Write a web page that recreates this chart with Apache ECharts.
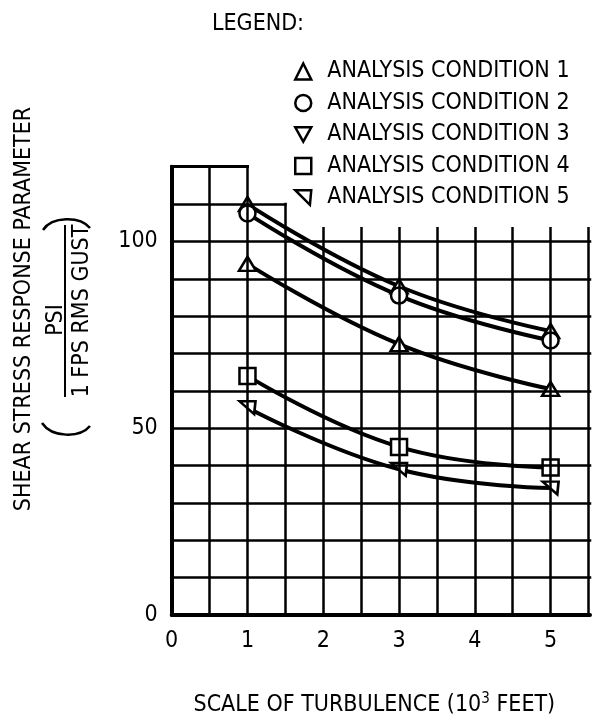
<!DOCTYPE html>
<html>
<head>
<meta charset="utf-8">
<script src="https://cdn.jsdelivr.net/npm/echarts@6/dist/echarts.min.js"></script>
<style>
  html, body { margin: 0; padding: 0; background: #fff; }
  #chart { width: 593px; height: 722px; }
</style>
</head>
<body>
<div id="chart"></div>
<script>
// Turbulence scale (10^3 ft) at which each condition was analysed
const scales = [1, 3, 5];

// Shear stress response parameter, PSI per 1 FPS RMS gust
const condition1 = [110, 88, 76];
const condition2 = [107.5, 85.5, 73.5];
const condition3 = [94, 72.5, 60.5];
const condition4 = [64, 45, 39.5];
const condition5 = [55.5, 39, 34];

const seriesNames = [
  'ANALYSIS CONDITION 1',
  'ANALYSIS CONDITION 2',
  'ANALYSIS CONDITION 3',
  'ANALYSIS CONDITION 4',
  'ANALYSIS CONDITION 5'
];

const xTickLabels = ['0', '1', '2', '3', '4', '5'];
const yTickLabels = ['0', '50', '100'];

const FONT = '"Liberation Sans Narrow", "DejaVu Sans Condensed", "Roboto Condensed", "Liberation Sans", sans-serif';
const FS = 23;
const X_MAX = 5.52;
const Y_MAX = 120;

const DOWN_TRI = 'path://M0 0 L10 0 L5 9 Z';
const SKEW_TRI = 'path://M0 0 L12 0 L11 11 Z';

const symbols = [
  { symbol: 'triangle', size: [17, 14] },
  { symbol: 'circle', size: 16 },
  { symbol: 'triangle', size: [17, 14] },
  { symbol: 'rect', size: 16 },
  { symbol: SKEW_TRI, size: [16, 14] }
];
const legendIcons = ['triangle', 'circle', DOWN_TRI, 'rect', SKEW_TRI];

// Graph-paper rules: full lines below 100, a stepped extension above it
function gridSegments() {
  const segs = [];
  const inner = { color: '#000', width: 2.5, type: 'solid', cap: 'square' };
  for (let k = 1; k <= 11; k++) {
    const x = k * 0.5;
    const top = x <= 1 ? Y_MAX : (x <= 1.5 ? 110 : 103.5);
    segs.push([{ coord: [x, 0], lineStyle: inner }, { coord: [x, top] }]);
  }
  for (let v = 10; v <= 100; v += 10) {
    segs.push([{ coord: [0, v], lineStyle: inner }, { coord: [X_MAX, v] }]);
  }
  segs.push([{ coord: [0, 110], lineStyle: inner }, { coord: [1.5, 110] }]);
  segs.push([{ coord: [0, 120], lineStyle: { color: '#000', width: 3, type: 'solid', cap: 'square' } }, { coord: [1, 120] }]);
  return segs;
}

const values = [condition1, condition2, condition3, condition4, condition5];

const dataSeries = values.map((vals, i) => ({
  name: seriesNames[i],
  type: 'line',
  z: 3,
  smooth: 0.45,
  data: scales.map((x, j) => [x, vals[j]]),
  symbol: symbols[i].symbol,
  symbolSize: symbols[i].size,
  symbolKeepAspect: true,
  showAllSymbol: true,
  lineStyle: { color: '#000', width: 4 },
  itemStyle: { color: '#fff', borderColor: '#000', borderWidth: 2.5, opacity: 1 },
  emphasis: { disabled: true }
}));

const chart = echarts.init(document.getElementById('chart'), null, { renderer: 'canvas' });

chart.setOption({
  animation: false,
  backgroundColor: '#fff',
  title: {
    text: 'LEGEND:',
    left: 207,
    top: 8,
    textStyle: { fontFamily: FONT, fontSize: FS, fontWeight: 'normal', color: '#000' }
  },
  legend: {
    orient: 'vertical',
    left: 289,
    top: 55,
    itemWidth: 16,
    itemHeight: 16,
    itemGap: 8.5,
    selectedMode: false,
    data: seriesNames.map((n, i) => ({ name: n, icon: legendIcons[i] })),
    itemStyle: { color: '#fff', borderColor: '#000', borderWidth: 2.5 },
    textStyle: { fontFamily: FONT, fontSize: FS, color: '#000', padding: [0, 0, 0, 11] }
  },
  grid: { left: 171.7, top: 166.7, right: 0, bottom: 99.3, containLabel: false },
  xAxis: {
    type: 'value',
    min: 0,
    max: X_MAX,
    interval: 0.5,
    axisLine: { show: true, lineStyle: { color: '#000', width: 4 } },
    axisTick: { show: false },
    splitLine: { show: false },
    axisLabel: {
      margin: 15,
      fontFamily: FONT,
      fontSize: FS,
      color: '#000',
      formatter: v => {
        const s = String(v);
        return xTickLabels.includes(s) ? s : '';
      }
    },
    name: 'SCALE OF TURBULENCE (10{sup|3} FEET)',
    nameLocation: 'middle',
    nameGap: 77,
    nameTextStyle: {
      fontFamily: FONT, fontSize: FS, color: '#000', padding: [0, 13, 0, 0],
      rich: { sup: { fontFamily: FONT, fontSize: 15, color: '#000', verticalAlign: 'top', padding: [0, 0, 12, 0] } }
    }
  },
  yAxis: {
    type: 'value',
    min: 0,
    max: Y_MAX,
    interval: 10,
    axisLine: { show: true, lineStyle: { color: '#000', width: 4 } },
    axisTick: { show: false },
    splitLine: { show: false },
    axisLabel: {
      margin: 14,
      fontFamily: FONT,
      fontSize: FS,
      color: '#000',
      formatter: v => {
        const s = String(v);
        return yTickLabels.includes(s) ? s : '';
      }
    }
  },
  graphic: [
    {
      type: 'text', x: 24, y: 309, rotation: Math.PI / 2,
      style: { text: 'SHEAR STRESS RESPONSE PARAMETER', fontFamily: FONT, fontSize: FS, fill: '#000', align: 'center', verticalAlign: 'middle' }
    },
    {
      type: 'text', x: 56, y: 320, rotation: Math.PI / 2,
      style: { text: 'PSI', fontFamily: FONT, fontSize: FS, fill: '#000', align: 'center', verticalAlign: 'middle' }
    },
    {
      type: 'line',
      shape: { x1: 65, y1: 225, x2: 65, y2: 397 },
      style: { stroke: '#000', lineWidth: 2 }
    },
    {
      type: 'text', x: 82, y: 311, rotation: Math.PI / 2,
      style: { text: '1 FPS RMS GUST', fontFamily: FONT, fontSize: FS, fill: '#000', align: 'center', verticalAlign: 'middle' }
    },
    {
      type: 'bezierCurve',
      shape: { x1: 43, y1: 230, cpx1: 52, cpy1: 216, cpx2: 80, cpy2: 216, x2: 90, y2: 228 },
      style: { stroke: '#000', lineWidth: 2.5, fill: null }
    },
    {
      type: 'bezierCurve',
      shape: { x1: 42, y1: 423, cpx1: 52, cpy1: 438, cpx2: 80, cpy2: 438, x2: 90, y2: 426 },
      style: { stroke: '#000', lineWidth: 2.5, fill: null }
    }
  ],
  series: [
    {
      name: 'grid-rules',
      type: 'line',
      z: 1,
      data: [],
      silent: true,
      markLine: {
        silent: true,
        symbol: ['none', 'none'],
        label: { show: false },
        emphasis: { disabled: true },
        data: gridSegments()
      }
    }
  ].concat(dataSeries)
});
</script>
</body>
</html>
